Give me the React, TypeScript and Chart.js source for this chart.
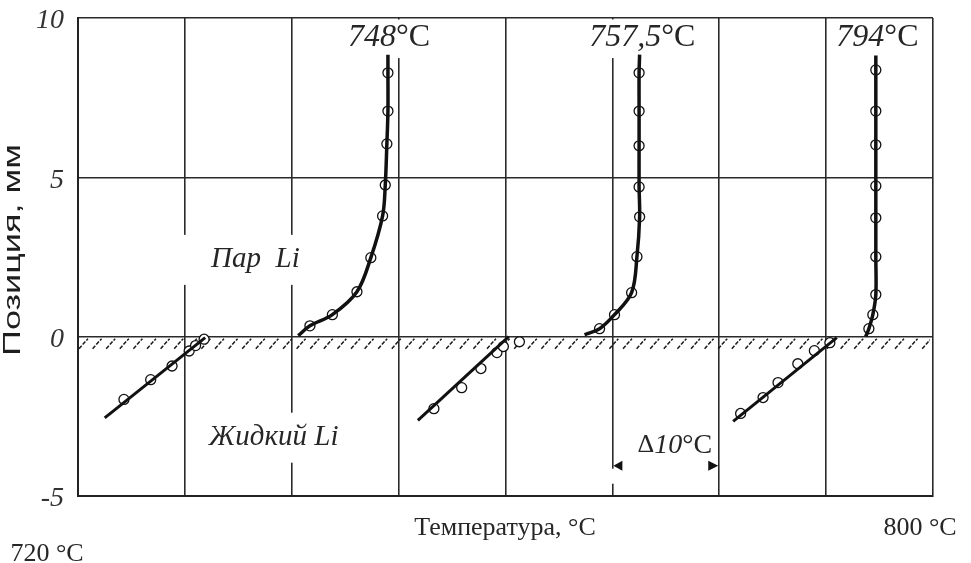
import React, { useEffect, useRef } from "react";
import { Chart, registerables } from "chart.js";

Chart.register(...registerables);

// ---- axes ----
const xMin = 720;
const xMax = 800;
const xStep = 10;
const yMin = -5;
const yMax = 10;
const yStep = 5;

// ---- curve 1 (748 °C) ----
const liq1LineT = [722.5, 731.9];
const liq1LinePos = [-2.55, -0.03];
const liq1PtT = [724.3, 726.8, 728.8, 730.4, 731.0, 731.8];
const liq1PtPos = [-1.97, -1.35, -0.92, -0.45, -0.28, -0.08];
const vap1LineT = [740.6, 741.7, 743.8, 746.1, 747.4, 748.5, 748.75, 748.9, 749.0, 749.0, 749.0];
const vap1LinePos = [0.03, 0.34, 0.69, 1.41, 2.48, 3.79, 4.76, 6.05, 7.08, 8.28, 8.85];
const vap1PtT = [741.7, 743.8, 746.1, 747.4, 748.5, 748.75, 748.9, 749.0, 749.0];
const vap1PtPos = [0.34, 0.69, 1.41, 2.48, 3.79, 4.76, 6.05, 7.08, 8.28];

// ---- curve 2 (757,5 °C) ----
const liq2LineT = [751.8, 760.3];
const liq2LinePos = [-2.63, 0.0];
const liq2PtT = [753.3, 755.9, 757.7, 759.2, 759.8, 761.3];
const liq2PtPos = [-2.26, -1.6, -1.0, -0.5, -0.31, -0.16];
const vap2LineT = [767.4, 768.8, 770.2, 771.8, 772.3, 772.55, 772.5, 772.5, 772.5, 772.5, 772.55];
const vap2LinePos = [0.06, 0.25, 0.69, 1.38, 2.51, 3.76, 4.7, 5.99, 7.08, 8.28, 8.85];
const vap2PtT = [768.8, 770.2, 771.8, 772.3, 772.55, 772.5, 772.5, 772.5, 772.5];
const vap2PtPos = [0.25, 0.69, 1.38, 2.51, 3.76, 4.7, 5.99, 7.08, 8.28];

// ---- curve 3 (794 °C) ----
const liq3LineT = [781.3, 791.0];
const liq3LinePos = [-2.66, -0.03];
const liq3PtT = [782.0, 784.1, 785.5, 787.35, 788.9, 790.35];
const liq3PtPos = [-2.41, -1.91, -1.44, -0.85, -0.44, -0.19];
const vap3LineT = [793.7, 794.0, 794.37, 794.65, 794.65, 794.65, 794.65, 794.65, 794.65, 794.65, 794.65];
const vap3LinePos = [0.0, 0.25, 0.69, 1.32, 2.51, 3.73, 4.73, 6.02, 7.08, 8.37, 8.82];
const vap3PtT = [794.0, 794.37, 794.65, 794.65, 794.65, 794.65, 794.65, 794.65, 794.65];
const vap3PtPos = [0.25, 0.69, 1.32, 2.51, 3.73, 4.73, 6.02, 7.08, 8.37];

// ---- text ----
const curveLabels = [
  { num: "748", t: 749.1 },
  { num: "757,5", t: 772.8 },
  { num: "794", t: 794.8 },
];
const curveLabelPos = 9.37;
const vaporLabel = { text: "Пар  Li", t: 736.6, pos: 2.41 };
const liquidLabel = { text: "Жидкий Li", t: 738.3, pos: -3.17 };
const deltaLabel = { t: 775.85, pos: -3.42, from: 770, to: 780, arrowPos: -4.05 };
const xTitle = "Температура, °C";
const xMinLabel = "720 °C";
const xMaxLabel = "800 °C";
const yTitle = "Позиция, мм";

const SERIF = '"Liberation Serif", "DejaVu Serif", serif';
const SANS = '"Liberation Sans", Arial, sans-serif';
const INK = "#262626";

const zip = (xs: number[], ys: number[]) => xs.map((x, i) => ({ x, y: ys[i] }));

type Run = { text: string; font: string };

function drawRuns(ctx: CanvasRenderingContext2D, runs: Run[], cx: number, cy: number) {
  const widths = runs.map((r) => {
    ctx.font = r.font;
    return ctx.measureText(r.text).width;
  });
  const total = widths.reduce((a, b) => a + b, 0);
  let x = cx - total / 2;
  ctx.textAlign = "left";
  ctx.textBaseline = "middle";
  runs.forEach((r, i) => {
    ctx.font = r.font;
    ctx.fillText(r.text, x, cy);
    x += widths[i];
  });
  return total;
}

const decorPlugin = {
  id: "decor",
  beforeDatasetsDraw(chart: any) {
    const { ctx, chartArea, scales } = chart;
    const xs = scales.x;
    const ys = scales.y;
    ctx.save();
    // hatching under the liquid surface
    const y0 = ys.getPixelForValue(0);
    ctx.beginPath();
    ctx.rect(chartArea.left, y0, chartArea.right - chartArea.left - 3, 14);
    ctx.clip();
    ctx.strokeStyle = "#1a1a1a";
    ctx.lineWidth = 1.5;
    ctx.setLineDash([4, 1.5]);
    for (let x = chartArea.left; x < chartArea.right; x += 13.6) {
      ctx.beginPath();
      ctx.moveTo(x + 1, y0 + 12);
      ctx.lineTo(x + 10, y0 + 2);
      ctx.stroke();
    }
    ctx.restore();

    // white gaps in grid lines behind labels
    ctx.save();
    ctx.fillStyle = "#fff";
    const top = chartArea.top + 1.5;
    curveLabels.forEach((l) => {
      const cx = xs.getPixelForValue(l.t);
      ctx.fillRect(cx - 45, top, 90, ys.getPixelForValue(curveLabelPos) + 20 - top);
    });
    [vaporLabel, liquidLabel].forEach((l) => {
      const cx = xs.getPixelForValue(l.t);
      const cy = ys.getPixelForValue(l.pos);
      ctx.fillRect(cx - 75, cy - 25, 150, 50);
    });
    const gx = xs.getPixelForValue(deltaLabel.from);
    const gy = ys.getPixelForValue(deltaLabel.arrowPos);
    ctx.fillRect(gx - 3, gy + 3, 6, 15);
    ctx.restore();
  },
  afterDatasetsDraw(chart: any) {
    const { ctx, chartArea, scales } = chart;
    const xs = scales.x;
    const ys = scales.y;
    ctx.save();
    ctx.fillStyle = INK;
    const ly = ys.getPixelForValue(curveLabelPos);
    curveLabels.forEach((l) => {
      drawRuns(
        ctx,
        [
          { text: l.num, font: `italic 32px ${SERIF}` },
          { text: "°C", font: `32px ${SERIF}` },
        ],
        xs.getPixelForValue(l.t),
        ly
      );
    });
    drawRuns(ctx, [{ text: vaporLabel.text, font: `italic 29px ${SERIF}` }], xs.getPixelForValue(vaporLabel.t), ys.getPixelForValue(vaporLabel.pos));
    drawRuns(ctx, [{ text: liquidLabel.text, font: `italic 29px ${SERIF}` }], xs.getPixelForValue(liquidLabel.t), ys.getPixelForValue(liquidLabel.pos));
    drawRuns(
      ctx,
      [
        { text: "Δ", font: `26px ${SERIF}` },
        { text: "10", font: `italic 28px ${SERIF}` },
        { text: "°C", font: `28px ${SERIF}` },
      ],
      xs.getPixelForValue(deltaLabel.t),
      ys.getPixelForValue(deltaLabel.pos)
    );
    // dimension arrows
    const ax1 = xs.getPixelForValue(deltaLabel.from);
    const ax2 = xs.getPixelForValue(deltaLabel.to);
    const ay = ys.getPixelForValue(deltaLabel.arrowPos);
    ctx.fillStyle = "#111";
    ctx.beginPath();
    ctx.moveTo(ax1 + 1, ay);
    ctx.lineTo(ax1 + 10, ay - 5);
    ctx.lineTo(ax1 + 10, ay + 5);
    ctx.closePath();
    ctx.fill();
    ctx.beginPath();
    ctx.moveTo(ax2 - 1, ay);
    ctx.lineTo(ax2 - 11, ay - 5);
    ctx.lineTo(ax2 - 11, ay + 5);
    ctx.closePath();
    ctx.fill();

    // axis texts
    ctx.fillStyle = INK;
    const bottom = chartArea.bottom;
    drawRuns(ctx, [{ text: xTitle, font: `26px ${SERIF}` }], chartArea.left + 427, bottom + 32);
    drawRuns(ctx, [{ text: xMaxLabel, font: `26px ${SERIF}` }], chartArea.right - 13, bottom + 32);
    drawRuns(ctx, [{ text: xMinLabel, font: `26px ${SERIF}` }], chartArea.left - 31, bottom + 58);

    // y title (rotated)
    ctx.font = `24px ${SANS}`;
    const w = ctx.measureText(yTitle).width;
    const sx = 212 / w;
    ctx.translate(13, (chartArea.top + chartArea.bottom) / 2 - 7);
    ctx.rotate(-Math.PI / 2);
    ctx.scale(sx, 1);
    ctx.textAlign = "center";
    ctx.textBaseline = "middle";
    ctx.fillStyle = "#1e1e1e";
    ctx.fillText(yTitle, 0, 0);
    ctx.restore();
  },
};

export default function App() {
  const ref = useRef<HTMLCanvasElement | null>(null);
  useEffect(() => {
    document.body.style.margin = "0";
    const canvas = ref.current!;
    const lineDs = (xs: number[], ys: number[], tension: number, width: number) => ({
      data: zip(xs, ys),
      showLine: true,
      borderColor: "#111",
      borderWidth: width,
      pointRadius: 0,
      tension,
    });
    const ptDs = (xs: number[], ys: number[]) => ({
      data: zip(xs, ys),
      showLine: false,
      pointRadius: 5,
      pointBackgroundColor: "#fff",
      pointBorderColor: "#111",
      pointBorderWidth: 1.3,
    });
    const chart = new Chart(canvas, {
      type: "scatter",
      data: {
        datasets: [
          lineDs(liq1LineT, liq1LinePos, 0, 3),
          lineDs(vap1LineT, vap1LinePos, 0.35, 3.5),
          lineDs(liq2LineT, liq2LinePos, 0, 3),
          lineDs(vap2LineT, vap2LinePos, 0.35, 3.5),
          lineDs(liq3LineT, liq3LinePos, 0, 3),
          lineDs(vap3LineT, vap3LinePos, 0.35, 3.5),
          ptDs(liq1PtT, liq1PtPos),
          ptDs(vap1PtT, vap1PtPos),
          ptDs(liq2PtT, liq2PtPos),
          ptDs(vap2PtT, vap2PtPos),
          ptDs(liq3PtT, liq3PtPos),
          ptDs(vap3PtT, vap3PtPos),
        ] as any,
      },
      options: {
        animation: false,
        responsive: false,
        layout: { padding: { top: 18, right: 38, left: 0, bottom: 0 } },
        plugins: { legend: { display: false }, tooltip: { enabled: false } },
        scales: {
          x: {
            type: "linear",
            min: xMin,
            max: xMax,
            ticks: { stepSize: xStep, display: false },
            grid: { color: "#2a2a2a", lineWidth: 1.6, drawTicks: false },
            border: { display: true, color: "#222", width: 2 },
            afterFit: (s: any) => {
              s.height = 67;
              s.paddingLeft = 0;
              s.paddingRight = 0;
            },
          },
          y: {
            type: "linear",
            min: yMin,
            max: yMax,
            ticks: {
              stepSize: yStep,
              padding: 14,
              labelOffset: 3,
              color: "#333",
              font: { family: SERIF, size: 28, style: "italic" },
              callback: (v: any) => String(v),
            },
            grid: { color: "#2a2a2a", lineWidth: 1.6, drawTicks: false },
            border: { display: true, color: "#222", width: 2 },
            afterFit: (s: any) => {
              s.width = 78;
              s.paddingTop = 0;
              s.paddingBottom = 0;
            },
          },
        },
      } as any,
      plugins: [decorPlugin],
    });
    return () => chart.destroy();
  }, []);
  return <canvas ref={ref} width={971} height={563} style={{ display: "block" }} />;
}
